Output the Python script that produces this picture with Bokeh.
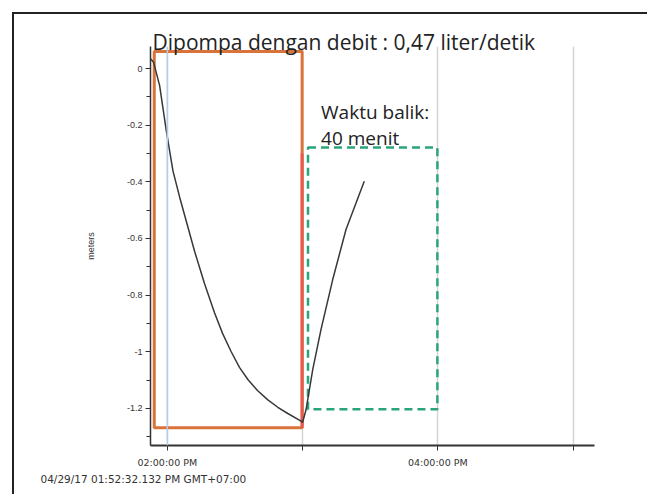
import pandas as pd
from bokeh.plotting import figure
from bokeh.models import Range1d, FixedTicker, Label, Span, Title
from bokeh.embed import file_html
from bokeh.resources import INLINE

DAY = "2017-04-29 "

# water level series (time, meters)
drawdown_times = ["13:52:32", "13:53:56", "13:56:35", "13:59:34", "14:02:31", "14:05:30",
                  "14:08:25", "14:12:05", "14:16:31", "14:20:56", "14:24:30", "14:28:20",
                  "14:32:00", "14:35:44", "14:40:00", "14:44:35", "14:49:00", "14:53:26",
                  "14:59:20", "15:00:00"]
drawdown_vals = [0.035, 0.022, -0.060, -0.221, -0.362, -0.455,
                 -0.539, -0.645, -0.760, -0.862, -0.935, -1.000,
                 -1.055, -1.098, -1.137, -1.170, -1.196, -1.218,
                 -1.245, -1.250]
recovery_times = ["15:00:00", "15:01:33", "15:04:31", "15:08:11", "15:13:22", "15:19:16", "15:27:22"]
recovery_vals = [-1.250, -1.204, -1.062, -0.921, -0.745, -0.568, -0.398]

# annotation boxes (time span, level span)
pump_box_times = ["13:54:12", "14:59:48"]
pump_box_levels = [0.06, -1.268]
recov_box_times = ["15:02:24", "15:59:48"]
recov_box_levels = [-0.279, -1.203]

x_ticks = ["14:00:00", "15:00:00", "16:00:00", "17:00:00"]
x_tick_labels = ["02:00:00 PM", "", "04:00:00 PM", ""]
y_ticks = [0.0, -0.2, -0.4, -0.6, -0.8, -1.0, -1.2]
y_tick_labels = ["0", "-0.2", "-0.4", "-0.6", "-0.8", "-1", "-1.2"]
y_minor = [0.0, -0.1, -0.2, -0.3, -0.4, -0.5, -0.6, -0.7, -0.8, -0.9, -1.0, -1.1, -1.2, -1.3]

title_text = "Dipompa dengan debit : 0,47 liter/detik"
note_lines = ["Waktu balik:", "40 menit"]
start_stamp = "04/29/17 01:52:32.132 PM GMT+07:00"


def t(s):
    return pd.Timestamp(DAY + s)


def ms(s):
    return t(s).value / 1e6


p = figure(width=635, height=482, x_axis_type="datetime", output_backend="svg",
           toolbar_location=None, min_border_left=136, min_border_right=55,
           min_border_top=32, min_border_bottom=51,
           x_range=Range1d(t("13:52:32"), t("17:09:30")),
           y_range=Range1d(-1.331, 0.078))
p.styles = {"margin-left": "12px", "margin-top": "12px",
            "border-left": "2px solid #222", "border-top": "2px solid #222"}
p.outline_line_color = None
p.background_fill_color = "white"

# title above the frame, time stamp below the axis
p.add_layout(Title(text=title_text, align="left", offset=2, standoff=-19,
                   text_font="Open Sans", text_font_size="21px", text_font_style="normal",
                   text_color="#222"), "above")
p.add_layout(Title(text=start_stamp, align="left", offset=-110, standoff=0,
                   text_font="DejaVu Sans", text_font_size="10.5px",
                   text_font_style="normal", text_color="#333"), "below")

# axes
xt = [ms(s) for s in x_ticks]
p.xaxis.ticker = FixedTicker(ticks=xt)
p.xaxis.major_label_overrides = {v: lab for v, lab in zip(xt, x_tick_labels)}
p.xaxis.minor_tick_line_color = None
p.xaxis.axis_line_width = 2
p.xaxis.axis_line_color = "#333"
p.xaxis.major_tick_line_color = "#333"
p.xaxis.major_tick_out = 5
p.xaxis.major_tick_in = 0
p.xaxis.major_label_text_font = "DejaVu Sans"
p.xaxis.major_label_text_font_size = "9.5px"
p.xaxis.major_label_text_color = "#333"
p.xaxis.major_label_standoff = 6

p.yaxis.ticker = FixedTicker(ticks=y_ticks, minor_ticks=y_minor)
p.yaxis.major_label_overrides = {v: lab for v, lab in zip(y_ticks, y_tick_labels)}
p.yaxis.axis_line_width = 1.5
p.yaxis.axis_line_color = "#333"
p.yaxis.major_tick_line_color = "#333"
p.yaxis.minor_tick_line_color = "#333"
p.yaxis.major_tick_out = 5
p.yaxis.major_tick_in = 0
p.yaxis.minor_tick_out = 4
p.yaxis.minor_tick_in = 0
p.yaxis.major_label_text_font = "Liberation Sans"
p.yaxis.major_label_text_font_size = "9px"
p.yaxis.major_label_text_color = "#333"
p.yaxis.major_label_standoff = 3
p.yaxis.axis_label = "meters"
p.yaxis.axis_label_text_font = "Liberation Sans"
p.yaxis.axis_label_text_font_size = "9px"
p.yaxis.axis_label_text_font_style = "normal"
p.yaxis.axis_label_text_color = "#333"
p.yaxis.axis_label_standoff = 28

p.xgrid.ticker = FixedTicker(ticks=xt)
p.xgrid.grid_line_color = "#d4d4d4"
p.xgrid.grid_line_width = 1.5
p.ygrid.grid_line_color = None
p.add_layout(Span(location=xt[0], dimension="height", line_color="#b3cfe8", line_width=1.5))

# boxes
p.quad(left=[t(pump_box_times[0])], right=[t(pump_box_times[1])],
       top=[pump_box_levels[0]], bottom=[pump_box_levels[1]],
       fill_alpha=0, line_color="#d9733a", line_width=3)
p.segment(x0=[t(pump_box_times[1])], x1=[t(pump_box_times[1])],
          y0=[-0.3], y1=[pump_box_levels[1]], line_color="#e8584f", line_width=3)
p.quad(left=[t(recov_box_times[0])], right=[t(recov_box_times[1])],
       top=[recov_box_levels[0]], bottom=[recov_box_levels[1]],
       fill_alpha=0, line_color="#2aa57a", line_width=2.5, line_dash="8 5")

# series
p.line([t(s) for s in drawdown_times], drawdown_vals, line_color="#383838", line_width=1.5)
p.line([t(s) for s in recovery_times], recovery_vals, line_color="#383838", line_width=1.5)

# notes inside the frame
p.add_layout(Label(x=ms("15:08:12"), y=-0.152, text=note_lines[0], text_font="Open Sans",
                   text_font_size="19px", text_color="#222", text_baseline="middle"))
p.add_layout(Label(x=ms("15:08:12"), y=-0.244, text=note_lines[1], text_font="Open Sans",
                   text_font_size="19px", text_color="#222", text_baseline="middle"))

open("out.html", "w").write(file_html(p, INLINE))
